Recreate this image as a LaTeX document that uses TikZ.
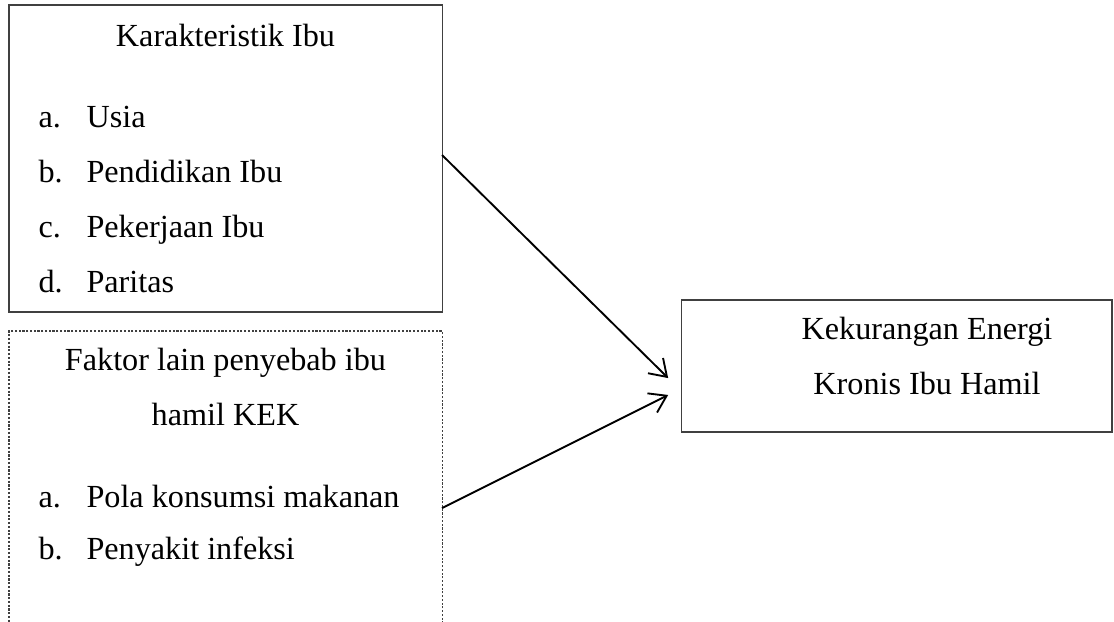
\documentclass[tikz,border=0pt]{standalone}
\usepackage{fontspec}
\setmainfont{Liberation Serif}
\usetikzlibrary{positioning,arrows.meta}
\tikzstyle{kotak} = [rectangle, draw=black!75, line width=0.4pt, inner sep=0pt, outer sep=0pt]
\tikzstyle{kotaktitik} = [kotak, dash pattern=on 0.8pt off 0.6pt]
\tikzstyle{teks} = [inner sep=0pt, font=\fontsize{12}{14}\selectfont]
\tikzstyle{panah} = [line width=0.7pt, -{Straight Barb[length=6pt,width=8pt]}]
\newcommand{\butir}[2]{\makebox[17.9pt][l]{#1}#2}

\begin{document}
\begin{tikzpicture}
			[x=0.3727pt, y=-0.3727pt, node distance=20.5pt]
			\useasboundingbox (0,0) rectangle (1114,621);
			\clip (0,0) rectangle (1114,621);
			% kotak
			\node[kotak, minimum width=161.4pt, minimum height=114.4pt] (karakteristik) at (225.5,158.5) {};
			\node[kotaktitik, minimum width=161.4pt, minimum height=122.6pt] (faktor) at (225.5,495.5) {};
			\node[kotak, minimum width=160.6pt, minimum height=49.2pt] (kek) at (896.5,366) {};
			
			% isi karakteristik ibu
			\node[teks, anchor=base] (judulKarakteristik) at (225.5,46) {Karakteristik Ibu};
			\node[teks, anchor=base west] (usia) at (38,127) {\butir{a.}{Usia}};
			\node[teks, below=of usia.base west, anchor=base west] (pendidikan) {\butir{b.}{Pendidikan Ibu}};
			\node[teks, below=of pendidikan.base west, anchor=base west] (pekerjaan) {\butir{c.}{Pekerjaan Ibu}};
			\node[teks, below=of pekerjaan.base west, anchor=base west] (paritas) {\butir{d.}{Paritas}};
			
			% isi faktor lain
			\node[teks, anchor=base] (judulFaktor) at (225.5,370) {Faktor lain penyebab ibu};
			\node[teks, below=of judulFaktor.base, anchor=base] (judulFaktor2) {hamil KEK};
			\node[teks, anchor=base west] (pola) at (38,507) {\butir{a.}{Pola konsumsi makanan}};
			\node[teks, below=19.7pt of pola.base west, anchor=base west] (infeksi) {\butir{b.}{Penyakit infeksi}};
			
			% isi kek
			\node[teks, anchor=base] (judulKek) at (927,339) {Kekurangan Energi};
			\node[teks, below=of judulKek.base, anchor=base] (judulKek2) {Kronis Ibu Hamil};
			
			\draw[panah] ([yshift=1.3pt]karakteristik.east) -- ([xshift=-4.8pt, yshift=-4.5pt]kek.west);
			\draw[panah] ([yshift=-4.7pt]faktor.east) -- ([xshift=-4.8pt, yshift=-10.8pt]kek.west);
\end{tikzpicture}
\end{document}
